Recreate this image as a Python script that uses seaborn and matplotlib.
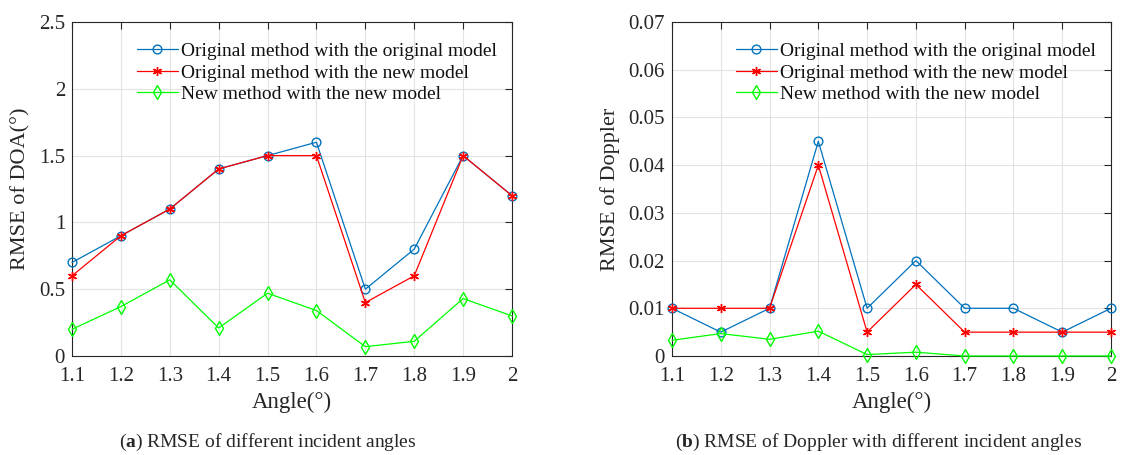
import matplotlib
matplotlib.use("Agg")
import matplotlib.pyplot as plt
import seaborn as sns
import pandas as pd

angles = [1.1, 1.2, 1.3, 1.4, 1.5, 1.6, 1.7, 1.8, 1.9, 2.0]
x_tick_labels = ["1.1", "1.2", "1.3", "1.4", "1.5", "1.6", "1.7", "1.8", "1.9", "2"]
series_names = ["Original method with the original model",
                "Original method with the new model",
                "New method with the new model"]

doa_orig_orig = [0.7, 0.9, 1.1, 1.4, 1.5, 1.6, 0.5, 0.8, 1.5, 1.2]
doa_orig_new = [0.6, 0.9, 1.1, 1.4, 1.5, 1.5, 0.4, 0.6, 1.5, 1.2]
doa_new_new = [0.2, 0.37, 0.57, 0.21, 0.47, 0.34, 0.07, 0.11, 0.43, 0.30]

dop_orig_orig = [0.01, 0.005, 0.01, 0.045, 0.01, 0.02, 0.01, 0.01, 0.005, 0.01]
dop_orig_new = [0.01, 0.01, 0.01, 0.04, 0.005, 0.015, 0.005, 0.005, 0.005, 0.005]
dop_new_new = [0.0033, 0.0047, 0.0035, 0.0052, 0.0003, 0.0008, 0.0, 0.0, 0.0, 0.0]

doa_yticks = [0, 0.5, 1, 1.5, 2, 2.5]
doa_ytick_labels = ["0", "0.5", "1", "1.5", "2", "2.5"]
dop_yticks = [0, 0.01, 0.02, 0.03, 0.04, 0.05, 0.06, 0.07]
dop_ytick_labels = ["0", "0.01", "0.02", "0.03", "0.04", "0.05", "0.06", "0.07"]

sns.set_style("white")
plt.rcParams['font.family'] = ['Liberation Serif', 'DejaVu Serif']
plt.rcParams['mathtext.fontset'] = 'custom'
plt.rcParams['mathtext.rm'] = 'Liberation Serif'
plt.rcParams['mathtext.bf'] = 'Liberation Serif:bold'

colors = ["#0072BD", "#FF0000", "#00FF00"]
markers = ["o", (6, 2, 0), "d"]
msizes = [6.3, 6.5, 7.5]

fig = plt.figure(figsize=(11.23, 4.55), dpi=100)
ax1 = fig.add_axes([72/1123, 1-356/455, 440/1123, 334/455])
ax2 = fig.add_axes([672/1123, 1-356/455, 439/1123, 334/455])


def draw(ax, ys, yticks, ylabels, ylim, ylabel):
    for name, y, c, m, ms in zip(series_names, ys, colors, markers, msizes):
        df = pd.DataFrame({"angle": angles, "val": y})
        sns.lineplot(data=df, x="angle", y="val", ax=ax, color=c, marker=m,
                     markersize=ms, markerfacecolor="none",
                     markeredgecolor=c, markeredgewidth=1.0, linewidth=0.9,
                     label=name, zorder=3, clip_on=False)
    ax.set_xlim(1.1, 2.0)
    ax.set_ylim(*ylim)
    ax.set_xticks(angles)
    ax.set_xticklabels(x_tick_labels)
    ax.set_yticks(yticks)
    ax.set_yticklabels(ylabels)
    ax.grid(True, color="#e3e3e3", linewidth=0.8)
    ax.set_axisbelow(True)
    ax.tick_params(direction="in", top=True, right=True, labelsize=15,
                   length=5, color="#262626", labelcolor="#262626")
    ax.tick_params(axis="x", pad=8)
    ax.tick_params(axis="y", pad=5)
    for s in ax.spines.values():
        s.set_color("#262626")
        s.set_linewidth(0.8)
    ax.set_xlabel("Angle(°)", fontsize=16.5, color="#262626", labelpad=4)
    ax.set_ylabel(ylabel, fontsize=16, color="#262626", labelpad=6)
    leg = ax.legend(loc="upper right", frameon=False, fontsize=14,
                    handlelength=2.1, handletextpad=0.15, labelspacing=0.2,
                    borderaxespad=0.4, bbox_to_anchor=(1.0, 0.985))
    for t in leg.get_texts():
        t.set_color("#111111")


draw(ax1, [doa_orig_orig, doa_orig_new, doa_new_new], doa_yticks,
     doa_ytick_labels, (0, 2.5), "RMSE of DOA(°)")
draw(ax2, [dop_orig_orig, dop_orig_new, dop_new_new], dop_yticks,
     dop_ytick_labels, (0, 0.07), "RMSE of Doppler")

fig.text(268/1123, 1-442/455, r"($\mathbf{a}$) RMSE of different incident angles",
         ha="center", va="center", fontsize=14)
fig.text(879/1123, 1-442/455,
         r"($\mathbf{b}$) RMSE of Doppler with different incident angles",
         ha="center", va="center", fontsize=14)

fig.savefig("out.png", dpi=100)
